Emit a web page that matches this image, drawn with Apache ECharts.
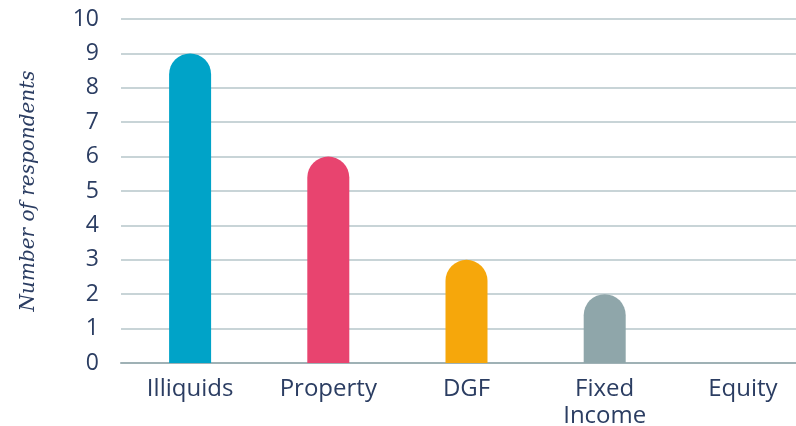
<!DOCTYPE html>
<html>
<head>
<meta charset="utf-8">
<script src="https://cdn.jsdelivr.net/npm/echarts@6/dist/echarts.min.js"></script>
<style>
html,body{margin:0;padding:0;background:#fff;overflow:hidden;width:796px;height:426px;}
#chart{width:812px;height:426px;}
</style>
</head>
<body>
<div id="chart"></div>
<script>
var categories = ['Illiquids', 'Property', 'DGF', 'Fixed\nIncome', 'Equity'];
var values = [9, 6, 3, 2, 0];
var barColors = ['#00a3c8', '#e8446f', '#f6a70b', '#8fa6aa', '#8fa6aa'];
var yTicks = {min: 0, max: 10, interval: 1};
var yTitle = 'Number of respondents';

var labelColor = '#2b3d62';
var chart = echarts.init(document.getElementById('chart'), null, {renderer: 'canvas'});
chart.setOption({
  animation: false,
  backgroundColor: '#ffffff',
  grid: {left: 121, top: 19, right: 0, height: 344, containLabel: false, outerBoundsMode: 'none'},
  xAxis: {
    type: 'category',
    data: categories,
    axisLine: {show: true, lineStyle: {color: '#9fb1b5', width: 2}},
    axisTick: {show: false},
    axisLabel: {
      color: labelColor, fontFamily: 'Open Sans', fontSize: 24, margin: 13,
      lineHeight: 27
    }
  },
  yAxis: {
    type: 'value',
    min: yTicks.min, max: yTicks.max, interval: yTicks.interval,
    name: yTitle,
    nameLocation: 'middle',
    nameGap: 82,
    nameTextStyle: {color: labelColor, fontFamily: 'DejaVu Serif', fontStyle: 'italic', fontSize: 20},
    axisLine: {show: false},
    axisTick: {show: false},
    splitLine: {lineStyle: {color: '#b6c6ca', width: 1.5}},
    axisLabel: {color: labelColor, fontFamily: 'Open Sans', fontSize: 23, margin: 22}
  },
  series: [{
    type: 'bar',
    barWidth: 42,
    data: values.map(function (v, i) {
      return {value: v, itemStyle: {color: barColors[i], borderRadius: [21, 21, 0, 0]}};
    })
  }]
});
</script>
</body>
</html>
